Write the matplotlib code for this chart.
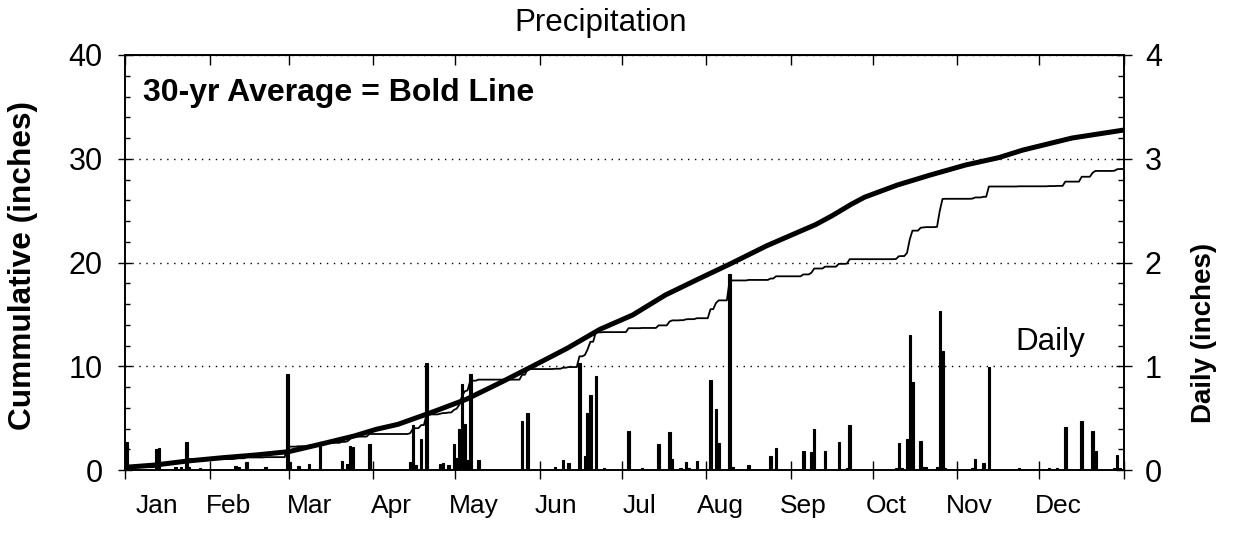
import numpy as np
import matplotlib
matplotlib.use('Agg')
import matplotlib.pyplot as plt
from matplotlib.ticker import MultipleLocator, FixedLocator, NullFormatter, FixedFormatter

plt.rcParams['font.family'] = ['Liberation Sans', 'DejaVu Sans']

# ---------------- data ----------------
months = ['Jan', 'Feb', 'Mar', 'Apr', 'May', 'Jun',
          'Jul', 'Aug', 'Sep', 'Oct', 'Nov', 'Dec']
month_starts = [0, 31, 60, 91, 121, 152, 182, 213, 244, 274, 305, 335, 366]
month_label_days = [11.7, 38.1, 67.8, 97.8, 127.8, 157.9, 188.6, 218.3,
                    248.4, 278.8, 309.5, 342.0]

# daily precipitation (day of year index, inches)
rain_days = [0, 11, 12, 18, 20, 22, 23, 27, 40, 41, 44, 51, 59, 60, 63, 67, 71,
             79, 81, 82, 83, 89, 104, 105, 106, 108, 110, 115, 116, 118, 120,
             121, 122, 123, 124, 125, 126, 129, 145, 147, 157, 160, 162, 166,
             168, 169, 170, 172, 175, 184, 189, 195, 199, 200, 203, 205, 206,
             209, 214, 216, 217, 221, 222, 228, 236, 238, 248, 251, 252, 256,
             261, 264, 265, 282, 283, 284, 286, 287, 288, 291, 292, 293, 297,
             298, 299, 300, 310, 311, 314, 316, 327, 338, 341, 344, 350, 354,
             355, 362, 363, 364]
rain_amounts = [0.27, 0.20, 0.21, 0.03, 0.03, 0.27, 0.03, 0.02, 0.04, 0.03, 0.08,
                0.03, 0.93, 0.08, 0.04, 0.06, 0.27, 0.09, 0.06, 0.23, 0.22, 0.25,
                0.08, 0.43, 0.05, 0.30, 1.03, 0.06, 0.07, 0.05, 0.25, 0.12, 0.40,
                0.83, 0.44, 0.10, 0.93, 0.10, 0.47, 0.55, 0.03, 0.10, 0.065, 1.03,
                0.135, 0.55, 0.72, 0.91, 0.02, 0.38, 0.02, 0.25, 0.37, 0.11, 0.02,
                0.08, 0.02, 0.09, 0.87, 0.59, 0.26, 1.89, 0.03, 0.05, 0.135, 0.215,
                0.18, 0.17, 0.40, 0.18, 0.27, 0.02, 0.43, 0.02, 0.26, 0.02, 0.30,
                1.30, 0.85, 0.28, 0.03, 0.03, 0.03, 1.53, 1.15, 0.02, 0.02, 0.11,
                0.065, 0.99, 0.02, 0.02, 0.02, 0.41, 0.47, 0.38, 0.18, 0.02, 0.145,
                0.02]

# 30-yr average cumulative precipitation (day of year, inches)
avg_days = [0, 11, 23, 36, 48, 60, 72, 84, 92, 100, 113, 125, 137, 149, 162,
            174, 186, 198, 210, 222, 235, 247, 253, 259, 266, 271, 283, 295,
            308, 320, 329, 347, 366]
avg_cum = [0.26, 0.48, 0.87, 1.19, 1.45, 1.77, 2.51, 3.28, 3.92, 4.4, 5.62,
           6.81, 8.35, 9.96, 11.73, 13.56, 14.94, 16.87, 18.4, 19.9, 21.6,
           22.97, 23.65, 24.5, 25.6, 26.3, 27.47, 28.43, 29.4, 30.1, 30.84,
           32.0, 32.77]

# ---------------- figure ----------------
W, H = 1239, 538
fig = plt.figure(figsize=(W / 100, H / 100), dpi=100)
ax = fig.add_axes([125 / W, (H - 470) / H, 999 / W, 415 / H])
ax2 = ax.twinx()

n_days = month_starts[-1]
daily = np.zeros(n_days)
daily[rain_days] = rain_amounts
cum = np.cumsum(daily)
day_idx = np.arange(n_days)

ax2.bar(np.array(rain_days) + 0.5, rain_amounts, width=0.9, color='black',
        edgecolor='black', linewidth=0.8, zorder=2)
ax.plot(day_idx + 0.5, cum, color='black', lw=1.3, zorder=3)
ax.plot(avg_days, avg_cum, color='black', lw=3.6, solid_capstyle='round',
        solid_joinstyle='round', zorder=4)

ax.set_zorder(ax2.get_zorder() + 1)
ax.patch.set_visible(False)

# x axis
ax.set_xlim(0, n_days)
ax.xaxis.set_major_locator(FixedLocator(month_starts))
ax.xaxis.set_major_formatter(NullFormatter())
ax.xaxis.set_minor_locator(FixedLocator(month_label_days))
ax.xaxis.set_minor_formatter(FixedFormatter(months))
ax.tick_params(axis='x', which='major', direction='inout', length=13, width=1, top=False)
ax.tick_params(axis='x', which='minor', length=0, pad=17, labelsize=19)

sec = ax.secondary_xaxis('top')
sec.xaxis.set_major_locator(FixedLocator(month_starts))
sec.xaxis.set_major_formatter(NullFormatter())
sec.tick_params(direction='in', length=7, width=1)

# left y axis
ax.set_ylim(0, 40)
ax.yaxis.set_major_locator(MultipleLocator(10))
ax.yaxis.set_minor_locator(MultipleLocator(2))
ax.tick_params(axis='y', which='major', direction='inout', length=10, width=1,
               labelsize=22, pad=11)
ax.tick_params(axis='y', which='minor', direction='in', length=3.6, width=1)
ax.yaxis.grid(True, which='major', linestyle=(0, (1, 4)), color='black', lw=1)

# right y axis
ax2.set_ylim(0, 4)
ax2.yaxis.set_major_locator(MultipleLocator(1))
ax2.yaxis.set_minor_locator(MultipleLocator(0.2))
ax2.tick_params(axis='y', which='major', direction='inout', length=12, width=1,
                labelsize=22, pad=9)
ax2.tick_params(axis='y', which='minor', direction='in', length=4.5, width=1)

for a in (ax, ax2):
    for s in a.spines.values():
        s.set_linewidth(1.2)

# texts
fig.text(601 / W, 1 - 31 / H, 'Precipitation', ha='center', va='baseline', fontsize=22.5)
fig.text(23 / W, 1 - 265 / H, 'Cummulative (inches)', rotation=90, ha='center',
         va='center', fontsize=22.8, fontweight='bold')
fig.text(1204 / W, 1 - 333 / H, 'Daily (inches)', rotation=90, ha='center',
         va='center', fontsize=20, fontweight='bold')
ax.text(0.018, 0.89, '30-yr Average = Bold Line', transform=ax.transAxes,
        ha='left', va='baseline', fontsize=23, fontweight='bold')
ax.text(0.891, 0.289, 'Daily', transform=ax.transAxes, ha='left',
        va='baseline', fontsize=22.5)

fig.savefig('out.png', dpi=100)
